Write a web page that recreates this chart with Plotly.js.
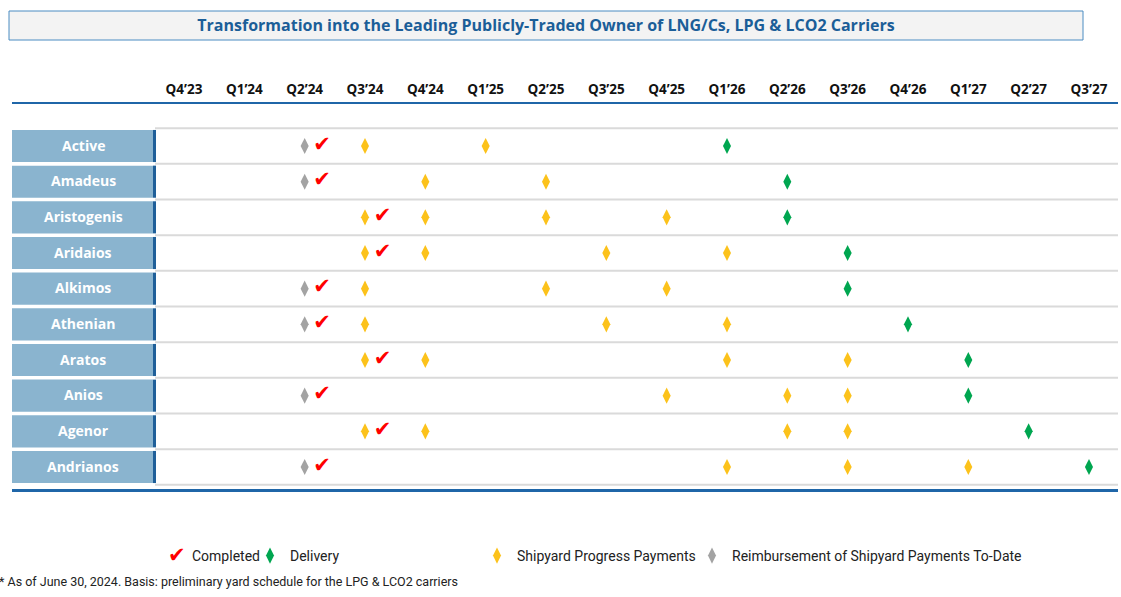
<!DOCTYPE html>
<html>
<head>
<meta charset="utf-8">
<script src="https://cdn.plot.ly/plotly-3.0.1.min.js"></script>
<style>html,body{margin:0;padding:0;background:#fff;}#chart{width:1121px;height:597px;}</style>
</head>
<body>
<div id="chart"></div>
<script>
// ---- Data ----
const quarters = ["Q4’23","Q1’24","Q2’24","Q3’24","Q4’24","Q1’25","Q2’25","Q3’25","Q4’25","Q1’26","Q2’26","Q3’26","Q4’26","Q1’27","Q2’27","Q3’27"];
const vessels = ["Active","Amadeus","Aristogenis","Aridaios","Alkimos","Athenian","Aratos","Anios","Agenor","Andrianos"];
// quarter in which each vessel's first milestone is completed (check mark)
const completed = ["Q2’24","Q2’24","Q3’24","Q3’24","Q2’24","Q2’24","Q3’24","Q2’24","Q3’24","Q2’24"];
// reimbursement of shipyard payments to-date (grey)
const reimbursement = [["Q2’24"],["Q2’24"],[],[],["Q2’24"],["Q2’24"],[],["Q2’24"],[],["Q2’24"]];
// shipyard progress payments (yellow)
const progress = [
  ["Q3’24","Q1’25"],
  ["Q4’24","Q2’25"],
  ["Q3’24","Q4’24","Q2’25","Q4’25"],
  ["Q3’24","Q4’24","Q3’25","Q1’26"],
  ["Q3’24","Q2’25","Q4’25"],
  ["Q3’24","Q3’25","Q1’26"],
  ["Q3’24","Q4’24","Q1’26","Q3’26"],
  ["Q4’25","Q2’26","Q3’26"],
  ["Q3’24","Q4’24","Q2’26","Q3’26"],
  ["Q1’26","Q3’26","Q1’27"]
];
// delivery (green)
const delivery = ["Q1’26","Q2’26","Q2’26","Q3’26","Q3’26","Q4’26","Q1’27","Q1’27","Q2’27","Q3’27"];
const legendNames = ["Completed","Delivery","Shipyard Progress Payments","Reimbursement of Shipyard Payments To-Date"];
const titleText = "Transformation into the Leading Publicly-Traded Owner of LNG/Cs, LPG & LCO2 Carriers";
const footnote = "* As of June 30, 2024. Basis: preliminary yard schedule for the LPG & LCO2 carriers";

// ---- Helpers ----
const qi = q => quarters.indexOf(q);
function flatten(listPerVessel){
  const x=[], y=[];
  listPerVessel.forEach((lst,v)=>lst.forEach(q=>{x.push(qi(q)); y.push(v);}));
  return {x,y};
}
const FONT = "Roboto, 'Open Sans', sans-serif";
const BFONT = "'Open Sans', Roboto, sans-serif";
const C_GREEN="#00a650", C_YELLOW="#fcc21b", C_GREY="#a3a3a3", C_RED="#ff0000";

const r = flatten(reimbursement);
const p = flatten(progress);
const d = {x: delivery.map(qi), y: vessels.map((_,i)=>i)};
const c = {x: completed.map(q=>qi(q)+0.29), y: vessels.map((_,i)=>i-0.02)};

const traces = [
  {type:'scatter', mode:'markers', x:r.x, y:r.y, name:legendNames[3], legend:'legend3',
   marker:{symbol:'diamond-tall', size:11.5, color:C_GREY}, hoverinfo:'skip'},
  {type:'scatter', mode:'markers', x:p.x, y:p.y, name:legendNames[2], legend:'legend2',
   marker:{symbol:'diamond-tall', size:11.5, color:C_YELLOW}, hoverinfo:'skip'},
  {type:'scatter', mode:'markers', x:d.x, y:d.y, name:legendNames[1], legend:'legend',
   marker:{symbol:'diamond-tall', size:11.5, color:C_GREEN}, hoverinfo:'skip'},
  {type:'scatter', mode:'text', x:c.x, y:c.y, text:c.x.map(()=>'✔'), showlegend:false,
   textfont:{family:"'DejaVu Sans'", size:21, color:C_RED}, textposition:'middle center', hoverinfo:'skip'}
];

// geometry helpers (plot area: x 12..1118, y 104..489)
const L=12, R=1118, T=104, B=489;
const px = v => (v-L)/(R-L);
const py = v => (B-v)/(B-T);

const shapes = [];
// title box
shapes.push({type:'rect', xref:'paper', yref:'paper', x0:px(9), x1:px(1083), y0:py(40), y1:py(11),
  fillcolor:'#f3f3f3', line:{color:'#4a8cc2', width:1}, layer:'below'});
// separators
for(let i=-1;i<vessels.length;i++){
  shapes.push({type:'line', xref:'paper', yref:'y', x0:px(155), x1:1, y0:i+0.5, y1:i+0.5,
    line:{color:'#dadada', width:2}, layer:'below'});
}
// label boxes
vessels.forEach((v,i)=>{
  shapes.push({type:'rect', xref:'paper', yref:'y', x0:0, x1:px(153), y0:i-0.45, y1:i+0.45,
    fillcolor:'#8ab4cf', line:{width:0}, layer:'below'});
  shapes.push({type:'rect', xref:'paper', yref:'y', x0:px(153), x1:px(156), y0:i-0.45, y1:i+0.45,
    fillcolor:'#1f5f99', line:{width:0}, layer:'below'});
});

const annotations = vessels.map((v,i)=>({
  xref:'paper', yref:'y', x:px(83), y:i-0.02, text:v, showarrow:false, xanchor:'center', yanchor:'middle',
  font:{family:BFONT, size:14, color:'#ffffff', weight:'bold'}
}));
// legend "Completed" entry
annotations.push({xref:'paper', yref:'paper', x:px(177), y:py(555), text:'✔', showarrow:false,
  xanchor:'center', yanchor:'middle', font:{family:"'DejaVu Sans'", size:21, color:C_RED}});
annotations.push({xref:'paper', yref:'paper', x:px(190), y:py(556), text:legendNames[0], showarrow:false,
  xanchor:'left', yanchor:'middle', font:{family:FONT, size:14, color:'#222'}});
// footnote
annotations.push({xref:'paper', yref:'paper', x:px(-3), y:py(581), text:footnote, showarrow:false,
  xanchor:'left', yanchor:'middle', font:{family:FONT, size:12.5, color:'#222'}});

const legBase = {orientation:'h', yanchor:'middle', y:py(556), xanchor:'left', bgcolor:'rgba(0,0,0,0)',
  borderwidth:0, font:{family:FONT, size:14, color:'#222'}};

const layout = {
  width:1121, height:597,
  margin:{l:L, r:1121-R, t:T, b:597-B, pad:0},
  paper_bgcolor:'#ffffff', plot_bgcolor:'rgba(0,0,0,0)',
  title:{text:titleText, x:546/1121, xanchor:'center', y:1-25.5/597, yanchor:'middle',
    font:{family:BFONT, size:16, color:'#1b5e98', weight:'bold'}},
  xaxis:{range:[-2.851,15.481], side:'top', tickmode:'array', tickvals:quarters.map((_,i)=>i), ticktext:quarters,
    ticks:'', ticklabelstandoff:2, showgrid:false, zeroline:false, showline:true, mirror:true, linecolor:'#1f66a8', linewidth:2.5,
    tickfont:{family:BFONT, size:13.5, color:'#111', weight:'bold'}, fixedrange:true},
  yaxis:{range:[9.617,-1.178], showticklabels:false, showgrid:false, zeroline:false, showline:false, fixedrange:true},
  shapes, annotations,
  showlegend:true,
  legend:Object.assign({}, legBase, {x:px(250)}),
  legend2:Object.assign({}, legBase, {x:px(477)}),
  legend3:Object.assign({}, legBase, {x:px(692)})
};

Plotly.newPlot('chart', traces, layout, {displayModeBar:false, staticPlot:true});
</script>
</body>
</html>
